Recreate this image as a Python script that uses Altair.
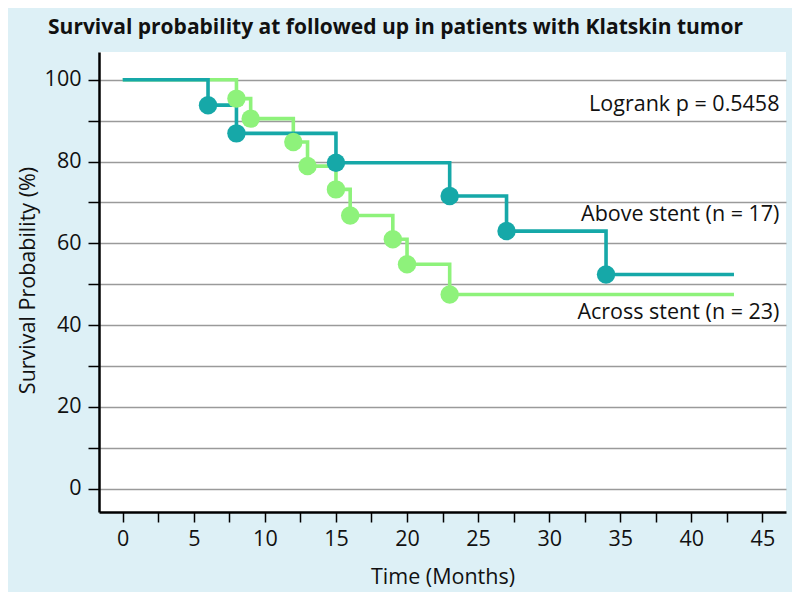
import altair as alt
import pandas as pd

# ---- data ----
above_time = [0, 6, 8, 15, 23, 27, 34, 43]
above_surv = [100, 93.8, 86.9, 79.7, 71.6, 63.0, 52.4, 52.4]

across_time = [0, 8, 9, 12, 13, 15, 16, 19, 20, 23, 43]
across_surv = [100, 95.4, 90.5, 84.8, 78.9, 73.2, 66.8, 61.0, 54.9, 47.5, 47.5]

ann_text = ["Logrank p = 0.5458", "Above stent (n = 17)", "Across stent (n = 23)"]
ann_x = [46.2, 46.2, 46.2]
ann_y = [92.4, 65.4, 41.4]

x_ticks = [i * 2.5 for i in range(19)]
y_ticks = [i * 10 for i in range(11)]

TEAL = "#16a8a8"
GREEN = "#8ef27b"
BG = "#ddf0f6"
FONT = "Open Sans"
FS = 21.5


def series(times, surv):
    n = len(times)
    return pd.DataFrame({
        "t": times,
        "s": surv,
        "event": [0 < i < n - 1 for i in range(n)],
    })


above = series(above_time, above_surv)
across = series(across_time, across_surv)
ann = pd.DataFrame({"t": ann_x, "s": ann_y, "text": ann_text})

xscale = alt.Scale(domain=[-1.67, 46.66], nice=False, zero=False)
yscale = alt.Scale(domain=[-5.7, 106.8], nice=False, zero=False)

xaxis = alt.Axis(
    title="Time (Months)", values=x_ticks,
    labelExpr="datum.value % 5 == 0 ? datum.label : ''",
    grid=False, domainColor="black", domainWidth=2.5,
    tickColor="black", tickWidth=1.5, tickSize=10,
    labelFont=FONT, labelFontSize=FS, labelColor="#111", labelPadding=6,
    titleFont=FONT, titleFontSize=FS, titleFontWeight="normal", titleColor="#111",
    titleY=65, titleBaseline="middle", labelFlush=False,
)
yaxis = alt.Axis(
    title="Survival Probability (%)", values=y_ticks,
    labelExpr="datum.value % 20 == 0 ? datum.label : ''",
    grid=True, gridColor="#9a9a9a", gridWidth=1.3,
    domainColor="black", domainWidth=2.5,
    tickColor="black", tickWidth=1.5, tickSize=11,
    labelFont=FONT, labelFontSize=FS, labelColor="#111", labelPadding=7,
    titleFont=FONT, titleFontSize=FS, titleFontWeight="normal", titleColor="#111",
    titleX=-71, titleY=228, titleBaseline="middle", titleAlign="center",
    labelFlush=False,
)

X = alt.X("t:Q", scale=xscale, axis=xaxis)
Y = alt.Y("s:Q", scale=yscale, axis=yaxis)


def line(df, color):
    return alt.Chart(df).mark_line(
        interpolate="step-after", color=color, strokeWidth=3.6
    ).encode(x=X, y=Y)


def dots(df, color):
    return alt.Chart(df).transform_filter("datum.event").mark_circle(
        color=color, size=340, opacity=1
    ).encode(x=X, y=Y)


text = alt.Chart(ann).mark_text(
    align="right", baseline="alphabetic", font=FONT, fontSize=FS, color="#111"
).encode(x=X, y=Y, text="text:N")

chart = alt.layer(
    line(across, GREEN),
    line(above, TEAL),
    dots(above, TEAL),
    dots(across, GREEN),
    text,
).properties(
    width=687,
    height=460,
    title=alt.TitleParams(
        "Survival probability at followed up in patients with Klatskin tumor",
        font=FONT, fontSize=21, fontWeight="bold", color="#111",
        anchor="middle", dx=-47, offset=14,
    ),
    autosize=alt.AutoSizeParams(type="none"),
    padding={"left": 91, "top": 44, "right": 6, "bottom": 80},
    background=BG,
).configure_view(
    fill="white", stroke=None
)

chart.save("out.html", embed_options={"renderer": "svg", "actions": False})
